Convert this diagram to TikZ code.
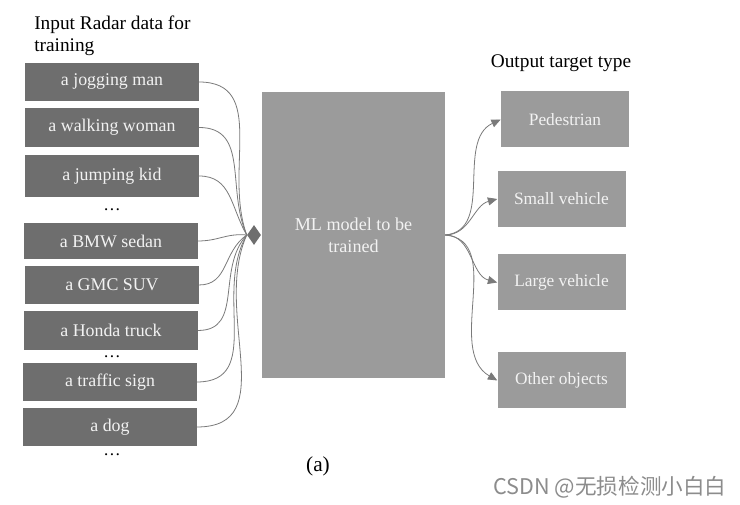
\documentclass[tikz,border=0pt]{standalone}
\usepackage{fontspec}
\setmainfont{Liberation Serif}
\newfontfamily\cjk{Noto Sans CJK SC}
\usetikzlibrary{arrows.meta,shapes.geometric}
\definecolor{Dark}{HTML}{6E6E6E}
\definecolor{Mid}{HTML}{9B9B9B}
\definecolor{Wire}{HTML}{7A7A7A}
\definecolor{Paper}{HTML}{F2F2F2}
\tikzset{
 inbox/.style={fill=Dark,text=Paper,minimum width=130pt,minimum height=29pt,inner sep=2pt,font=\fontsize{13.4}{15}\selectfont},
 outbox/.style={fill=Mid,text=Paper,minimum width=96pt,minimum height=42pt,inner sep=2pt,font=\fontsize{13}{15}\selectfont},
 model/.style={fill=Mid,text=Paper,minimum width=137pt,minimum height=214pt,align=center,font=\fontsize{13.6}{16.5}\selectfont},
 link/.style={draw=Wire,line width=0.6pt},
 arr/.style={link,-{Triangle[length=7pt,width=6pt]}},
 dots/.style={font=\fontsize{13}{15}\selectfont,inner sep=0pt}
}
\begin{document}
\begin{tikzpicture}[x=0.75pt,y=0.75pt]
\useasboundingbox[fill=white] (0,0) rectangle (740,505);
% titles
\node[anchor=north west,align=left,inner sep=0pt,font=\fontsize{14.5}{16.5}\selectfont] (intitle) at (34,489) {Input Radar data for\\training};
\node[inner sep=0pt,font=\fontsize{14.5}{16.5}\selectfont] (outtitle) at (561,442) {Output target type};
% input samples
\node[inbox] (jog) at (112,423) {a jogging man};
\node[inbox] (walk) at (112,377.5) {a walking woman};
\node[inbox,minimum height=32pt] (kid) at (112,329) {a jumping kid};
\node[dots] (d1) at (112,295) {\dots};
\node[inbox,minimum height=27pt] (bmw) at (111,264) {a BMW sedan};
\node[inbox] (gmc) at (112,220) {a GMC SUV};
\node[inbox,minimum height=29pt] (honda) at (111,174.5) {a Honda truck};
\node[dots] (d2) at (112,148.5) {\dots};
\node[inbox] (sign) at (110,123) {a traffic sign};
\node[inbox] (dog) at (110,78) {a dog};
\node[dots] (d3) at (112,50) {\dots};
% model
\node[diamond,fill=Dark,inner sep=0pt,minimum width=10.5pt,minimum height=15pt] (merge) at (254,270) {};
\node[model] (ml) at (353.5,270) {ML model to be\\trained};
% outputs
\node[outbox] (ped) at (565,385.5) {Pedestrian};
\node[outbox] (small) at (561.5,306) {Small vehicle};
\node[outbox] (large) at (561.5,222.5) {Large vehicle};
\node[outbox] (other) at (561.5,124.5) {Other objects};
\foreach \n/\a in {jog/110,walk/114,kid/120,bmw/175,gmc/215,honda/228,sign/240,dog/246}
 \draw[link] (\n.east) to[out=0,in=\a,looseness=1.1] (merge.west);
\foreach \n/\o/\a in {ped/5/205,small/0/195,large/0/165,other/-5/150}
 \draw[arr] (ml.east) to[out=\o,in=\a] (\n.west);
% caption and mark
\node[font=\fontsize{16}{18}\selectfont] (cap) at (318,39) {(a)};
\node[text=black!45,font=\cjk\fontsize{16.2}{18}\selectfont] (mark) at (610,18) {CSDN @无损检测小白白};
\end{tikzpicture}
\end{document}
